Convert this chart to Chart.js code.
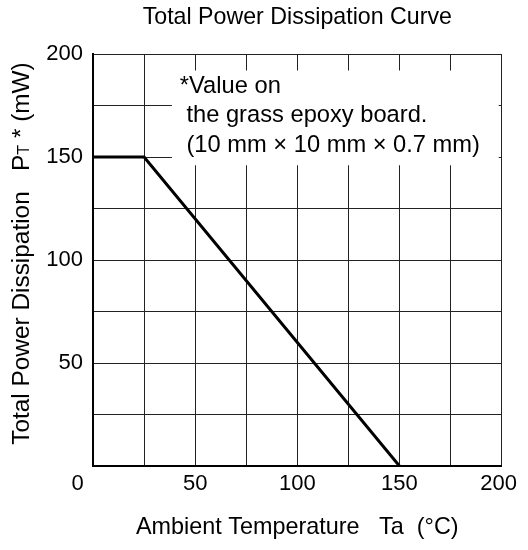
<!DOCTYPE html>
<html>
<head>
<meta charset="utf-8">
<script src="https://cdn.jsdelivr.net/npm/chart.js@4.4.1/dist/chart.umd.min.js"></script>
<style>
  html, body { margin: 0; padding: 0; background: #fff; }
  #wrap { width: 528px; height: 550px; }
</style>
</head>
<body>
<div id="wrap"><canvas id="chart" width="528" height="550"></canvas></div>
<script>
// curve values
const temps = [0, 25, 150];          // Ta (°C)
const power = [150, 150, 0];         // PT (mW)

const xLabelled = [0, 50, 100, 150, 200];
const yLabelled = [50, 100, 150, 200];

const chartTitle = "Total Power Dissipation Curve";
const xTitle = "Ambient Temperature   Ta  (\u00B0C)";
const yTitleParts = ["Total Power Dissipation   P", "T", " * (mW)"];
const noteLines = ["*Value on", " the grass epoxy board.", " (10 mm \u00D7 10 mm \u00D7 0.7 mm)"];

const FONT = "'Liberation Sans', Arial, Helvetica, sans-serif";

// white note box on top of the grid, with the y title drawn by hand (subscript T)
const notePlugin = {
    id: "notePlugin",
    beforeDatasetsDraw(chart) {
        const { ctx, scales: { x, y } } = chart;
        ctx.save();
        const left = x.getPixelForValue(38.6);
        const right = x.getPixelForValue(198.6);
        const top = y.getPixelForValue(192);
        const bottom = y.getPixelForValue(146);
        ctx.fillStyle = "#fff";
        ctx.fillRect(left, top, right - left, bottom - top);

        ctx.fillStyle = "#000";
        ctx.font = "23.7px " + FONT;
        ctx.textBaseline = "alphabetic";
        ctx.textAlign = "left";
        noteLines.forEach((line, i) => {
            ctx.fillText(line, left + 8, top + 22 + i * 29.5);
        });
        ctx.restore();
    },
    afterDraw(chart) {
        const { ctx, chartArea } = chart;
        ctx.save();
        const big = "24.4px " + FONT;
        const small = "16px " + FONT;
        ctx.font = big;
        const w0 = ctx.measureText(yTitleParts[0]).width;
        const w2 = ctx.measureText(yTitleParts[2]).width;
        ctx.font = small;
        const w1 = ctx.measureText(yTitleParts[1]).width;
        const total = w0 + w1 + w2;
        const cy = (chartArea.top + chartArea.bottom) / 2 - 6.5;
        ctx.translate(28.5, cy);
        ctx.rotate(-Math.PI / 2);
        ctx.fillStyle = "#000";
        ctx.textBaseline = "alphabetic";
        ctx.textAlign = "left";
        let pos = -total / 2;
        ctx.font = big;
        ctx.fillText(yTitleParts[0], pos, 0);
        pos += w0;
        ctx.font = small;
        ctx.fillText(yTitleParts[1], pos, 0);
        pos += w1;
        ctx.font = big;
        ctx.fillText(yTitleParts[2], pos, 0);
        ctx.restore();
    }
};

const ctx = document.getElementById("chart").getContext("2d");
const chart = new Chart(ctx, {
    type: "scatter",
    data: {
        datasets: [{
            data: temps.map((t, i) => ({ x: t, y: power[i] })),
            showLine: true,
            borderColor: "#000",
            borderWidth: 3,
            pointRadius: 0,
            tension: 0
        }]
    },
    options: {
        responsive: false,
        animation: false,
        layout: { padding: { top: 0, right: 26, bottom: 0, left: 0 } },
        plugins: {
            legend: { display: false },
            tooltip: { enabled: false },
            title: {
                display: true,
                text: chartTitle,
                fullSize: false,
                color: "#000",
                font: { family: FONT, size: 23.2, weight: "normal" },
                padding: { top: 3.5, bottom: 22.7 }
            }
        },
        scales: {
            x: {
                type: "linear",
                min: 0,
                max: 200,
                afterFit: s => { s.height = 84; },
                ticks: {
                    stepSize: 25,
                    autoSkip: false,
                    maxRotation: 0,
                    padding: 5,
                    color: "#000",
                    font: { family: FONT, size: 22 },
                    callback: v => {
                        if (!xLabelled.includes(v)) return "";
                        if (v === 0) return "0     ";
                        return v === 200 ? "200 " : String(v);
                    }
                },
                grid: { color: "#222", lineWidth: 1, drawTicks: false },
                border: { color: "#000", width: 2 },
                title: {
                    display: true,
                    text: xTitle,
                    color: "#000",
                    font: { family: FONT, size: 23.4 },
                    padding: { top: 0, bottom: 8 }
                }
            },
            y: {
                type: "linear",
                min: 0,
                max: 200,
                afterFit: s => { s.width = 93; },
                ticks: {
                    stepSize: 25,
                    autoSkip: false,
                    padding: 10,
                    color: "#000",
                    font: { family: FONT, size: 22 },
                    callback: v => yLabelled.includes(v) ? String(v) : ""
                },
                grid: { color: "#222", lineWidth: 1, drawTicks: false },
                border: { color: "#000", width: 2 }
            }
        }
    },
    plugins: [notePlugin]
});
</script>
</body>
</html>
